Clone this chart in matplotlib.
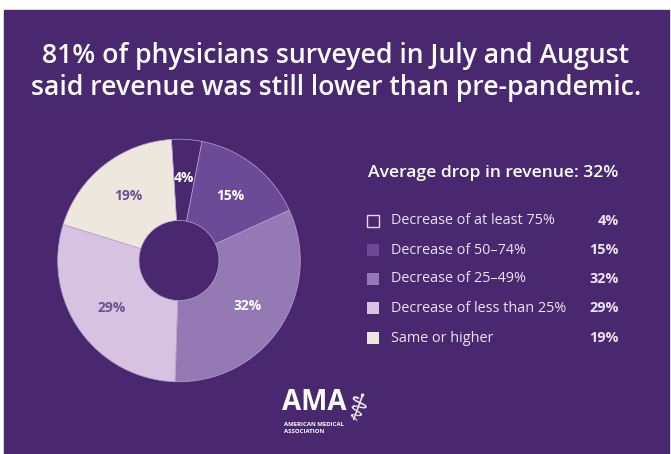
import matplotlib
matplotlib.use("Agg")
import matplotlib.pyplot as plt
from matplotlib.patches import Rectangle

# Données
categories = ["Decrease of at least 75%", "Decrease of 50–74%", "Decrease of 25–49%",
              "Decrease of less than 25%", "Same or higher"]
values = [4, 15, 32, 29, 19]
colors = ["#4a2870", "#6b4b98", "#9479b4", "#d8c2e2", "#ede7dd"]
label_colors = ["white", "white", "white", "#6e5094", "#6e5094"]

title = "81% of physicians surveyed in July and August\nsaid revenue was still lower than pre-pandemic."
subtitle = "Average drop in revenue: 32%"

bg = "#4a2870"
W, H = 671, 454

plt.rcParams["font.family"] = ["Open Sans", "DejaVu Sans"]

fig = plt.figure(figsize=(W / 100, H / 100), dpi=100)
fig.patch.set_facecolor("white")

# Fond violet (repère en pixels)
ax_bg = fig.add_axes([0, 0, 1, 1])
ax_bg.set_xlim(0, W)
ax_bg.set_ylim(H, 0)
ax_bg.axis("off")
ax_bg.add_patch(Rectangle((4, 10), W - 6, H - 10, color=bg, zorder=0))

# Titre
ax_bg.text(336, 72, title, ha="center", va="center", color="white",
           fontsize=19.2, fontweight="semibold", linespacing=1.2)

# Camembert
cx, cy, r = 179, 260.5, 122.5
ax_pie = fig.add_axes([(cx - r) / W, (H - cy - r) / H, 2 * r / W, 2 * r / H])
wedges, texts = ax_pie.pie(
    values, colors=colors, startangle=93.6, counterclock=False,
    labels=[f"{v}%" for v in values], labeldistance=0.68,
    wedgeprops=dict(width=0.67, edgecolor="#b8a2cf", linewidth=0.5),
    textprops=dict(fontsize=10, fontweight="bold", ha="center", va="center"),
)
for t, c in zip(texts, label_colors):
    t.set_color(c)
    t.set_horizontalalignment("center")
ax_pie.set_xlim(-1.01, 1.01)
ax_pie.set_ylim(-1.01, 1.01)
ax_pie.axis("off")

# Légende
ax_bg.text(368, 173, subtitle, ha="left", va="center", color="white",
           fontsize=12.6, fontweight="semibold")
row_y = [221, 250, 279, 308, 338]
for i, (cat, v, c) in enumerate(zip(categories, values, colors)):
    y = row_y[i]
    if i == 0:
        ax_bg.add_patch(Rectangle((367, y - 6), 12, 12, facecolor=bg,
                                  edgecolor="#e6dcef", linewidth=1))
    else:
        ax_bg.add_patch(Rectangle((367, y - 6), 12, 12, facecolor=c, edgecolor="none"))
    ax_bg.text(391, y, cat, ha="left", va="center", color="#ece4f2", fontsize=10.4)
    ax_bg.text(619, y, f"{v}%", ha="right", va="center", color="#ece4f2",
               fontsize=10.4, fontweight="bold")

# Logo AMA
ax_bg.text(282, 403, "AMA", ha="left", va="center", color="white",
           fontsize=20, fontweight="bold")
ax_bg.text(284, 428, "AMERICAN MEDICAL\nASSOCIATION", ha="left", va="center",
           color="white", fontsize=4.3, fontweight="bold", linespacing=1.3)
ax_bg.text(356, 410, "\u2695", ha="center", va="center", color="white",
           fontsize=28, family="DejaVu Sans", rotation=-20)

fig.savefig("out.png", dpi=100, facecolor=fig.get_facecolor())
